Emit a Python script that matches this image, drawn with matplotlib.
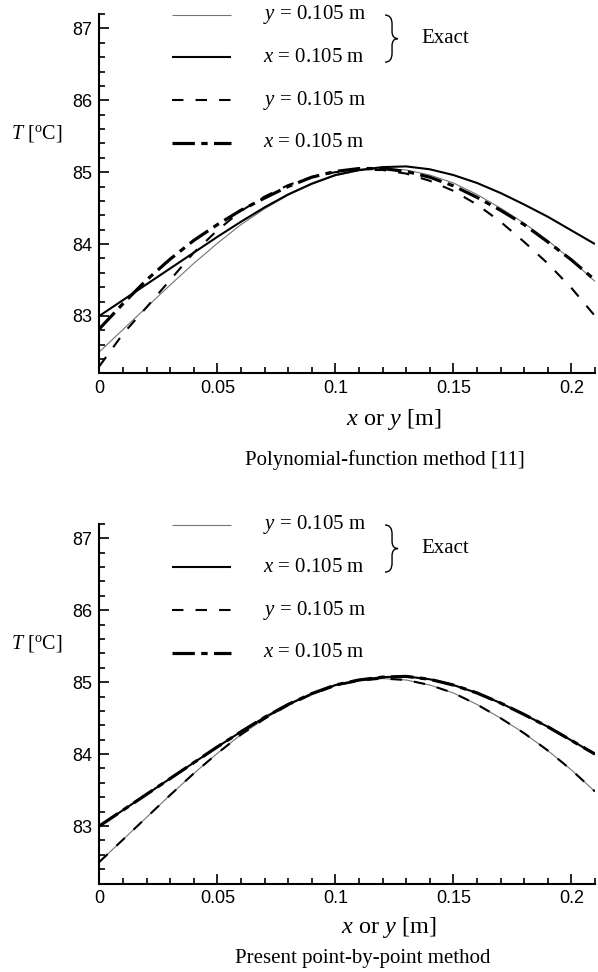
import numpy as np
import matplotlib.pyplot as plt
from matplotlib.path import Path
from matplotlib.patches import PathPatch
from matplotlib.ticker import MultipleLocator

plt.rcParams['mathtext.fontset'] = 'custom'
plt.rcParams['mathtext.rm'] = 'Liberation Serif'
plt.rcParams['mathtext.it'] = 'Liberation Serif:italic'

# position along the line [m]
pos = [0.00, 0.01, 0.02, 0.03, 0.04, 0.05, 0.06, 0.07, 0.08, 0.09, 0.10,
       0.11, 0.12, 0.13, 0.14, 0.15, 0.16, 0.17, 0.18, 0.19, 0.20, 0.21]

# exact solution
exact_y = [82.50, 82.81, 83.12, 83.43, 83.73, 84.01, 84.27, 84.49, 84.68, 84.83, 84.95,
           85.02, 85.05, 85.03, 84.96, 84.85, 84.69, 84.50, 84.29, 84.05, 83.78, 83.48]
exact_x = [83.00, 83.22, 83.44, 83.66, 83.88, 84.10, 84.31, 84.51, 84.69, 84.84, 84.96,
           85.03, 85.07, 85.08, 85.04, 84.96, 84.85, 84.71, 84.55, 84.38, 84.19, 84.00]

# polynomial-function method [11]
poly_y = [82.30, 82.75, 83.12, 83.50, 83.88, 84.19, 84.46, 84.66, 84.82, 84.93, 85.00,
          85.03, 85.03, 84.98, 84.88, 84.74, 84.55, 84.31, 84.03, 83.73, 83.39, 83.00]
poly_x = [82.82, 83.17, 83.50, 83.79, 84.05, 84.27, 84.47, 84.64, 84.80, 84.93, 85.01,
          85.05, 85.05, 85.01, 84.93, 84.81, 84.65, 84.47, 84.27, 84.03, 83.78, 83.50]

# present point-by-point method (lies on the exact curves)
present_y = [82.50, 82.81, 83.12, 83.43, 83.73, 84.01, 84.27, 84.49, 84.68, 84.83, 84.95,
             85.02, 85.05, 85.03, 84.96, 84.85, 84.69, 84.50, 84.29, 84.05, 83.78, 83.48]
present_x = [83.00, 83.22, 83.44, 83.66, 83.88, 84.10, 84.31, 84.51, 84.69, 84.84, 84.96,
             85.03, 85.07, 85.08, 85.04, 84.96, 84.85, 84.71, 84.55, 84.38, 84.19, 84.00]

xticks = [0, 0.05, 0.1, 0.15, 0.2]
xtick_labels = ["0", "0.05", "0.1", "0.15", "0.2"]
yticks = [83, 84, 85, 86, 87]
ytick_labels = ["83", "84", "85", "86", "87"]
legend_labels = [r"$y$ = 0.105 m", r"$x$ = 0.105 m", r"$y$ = 0.105 m", r"$x$ = 0.105 m"]

styles = [
    dict(color="0.45", lw=0.8, ls="-"),
    dict(color="black", lw=1.5, ls="-"),
    dict(color="black", lw=1.5, ls=(0, (5.5, 5.8))),
    dict(color="black", lw=2.3, ls=(0, (7, 2, 2, 2))),
]

serif = "Liberation Serif"
sans = "Liberation Sans"

fig = plt.figure(figsize=(5.98, 9.72), dpi=100)
ax_top = fig.add_axes([0.1661, 0.6158, 0.8288, 0.3698])
ax_bot = fig.add_axes([0.1661, 0.0910, 0.8288, 0.3700])


def panel(ax, method_y, method_x):
    series = [exact_y, exact_x, method_y, method_x]
    for vals, st in zip(series, styles):
        ax.plot(pos, vals, solid_capstyle="butt", dash_capstyle="butt", **st)

    ax.set_xlim(0, 0.21)
    ax.set_ylim(82.2, 87.2)
    ax.set_xticks(xticks)
    ax.set_xticklabels(xtick_labels)
    ax.set_yticks(yticks)
    ax.set_yticklabels(ytick_labels)
    ax.xaxis.set_minor_locator(MultipleLocator(0.01))
    ax.yaxis.set_minor_locator(MultipleLocator(0.2))
    ax.tick_params(which="both", direction="in", width=1.2)
    ax.tick_params(which="major", length=7)
    ax.tick_params(which="minor", length=4)
    ax.tick_params(axis="x", pad=4.5)
    ax.tick_params(axis="y", pad=5)
    for lab in ax.get_xticklabels() + ax.get_yticklabels():
        lab.set_fontfamily(sans)
        lab.set_fontsize(13)
    for s in ("top", "right"):
        ax.spines[s].set_visible(False)
    for s in ("left", "bottom"):
        ax.spines[s].set_linewidth(1.5)

    # y label, horizontal, left of the axis
    ax.text(-0.126, 0.668, r"$T$ [$^{\mathrm{o}}$C]", transform=ax.transAxes,
            ha="center", va="center", fontsize=14.5, family=serif)

    # hand-made legend
    rows = [0.998, 0.880, 0.760, 0.642]
    for r, st, lab in zip(rows, styles, legend_labels):
        ax.plot([0.147, 0.266], [r, r], transform=ax.transAxes, clip_on=False,
                solid_capstyle="butt", dash_capstyle="butt", **st)
        ax.text(0.331, r, lab, transform=ax.transAxes, ha="left", va="center",
                fontsize=15, family=serif)

    # brace grouping the two exact curves
    x0, xm, xt = 0.5765, 0.5906, 0.6027
    yt, yb = 0.997, 0.866
    ym = 0.5 * (yt + yb)
    verts = [(x0, yt), (xm, yt), (xm, yt - 0.025),
             (xm, ym + 0.02), (xm, ym), (xt, ym),
             (xm, ym), (xm, ym - 0.02),
             (xm, yb + 0.025), (xm, yb), (x0, yb)]
    codes = [Path.MOVETO, Path.CURVE3, Path.CURVE3,
             Path.LINETO, Path.CURVE3, Path.CURVE3,
             Path.CURVE3, Path.CURVE3,
             Path.LINETO, Path.CURVE3, Path.CURVE3]
    ax.add_patch(PathPatch(Path(verts, codes), transform=ax.transAxes, fill=False,
                           lw=1.0, edgecolor="black", clip_on=False))
    ax.text(0.6505, ym, "Exact", transform=ax.transAxes, ha="left", va="center",
            fontsize=15, family=serif)


panel(ax_top, poly_y, poly_x)
panel(ax_bot, present_y, present_x)

fig.text(394 / 598, 1 - 420 / 972, r"$x$ or $y$ [m]", ha="center", va="center",
         fontsize=17.5, family=serif)
fig.text(385 / 598, 1 - 460 / 972, "Polynomial-function method [11]", ha="center",
         va="center", fontsize=15, family=serif)
fig.text(389 / 598, 1 - 927 / 972, r"$x$ or $y$ [m]", ha="center", va="center",
         fontsize=17.5, family=serif)
fig.text(363 / 598, 1 - 958 / 972, "Present point-by-point method", ha="center",
         va="center", fontsize=15, family=serif)

fig.savefig("out.png", dpi=100)
